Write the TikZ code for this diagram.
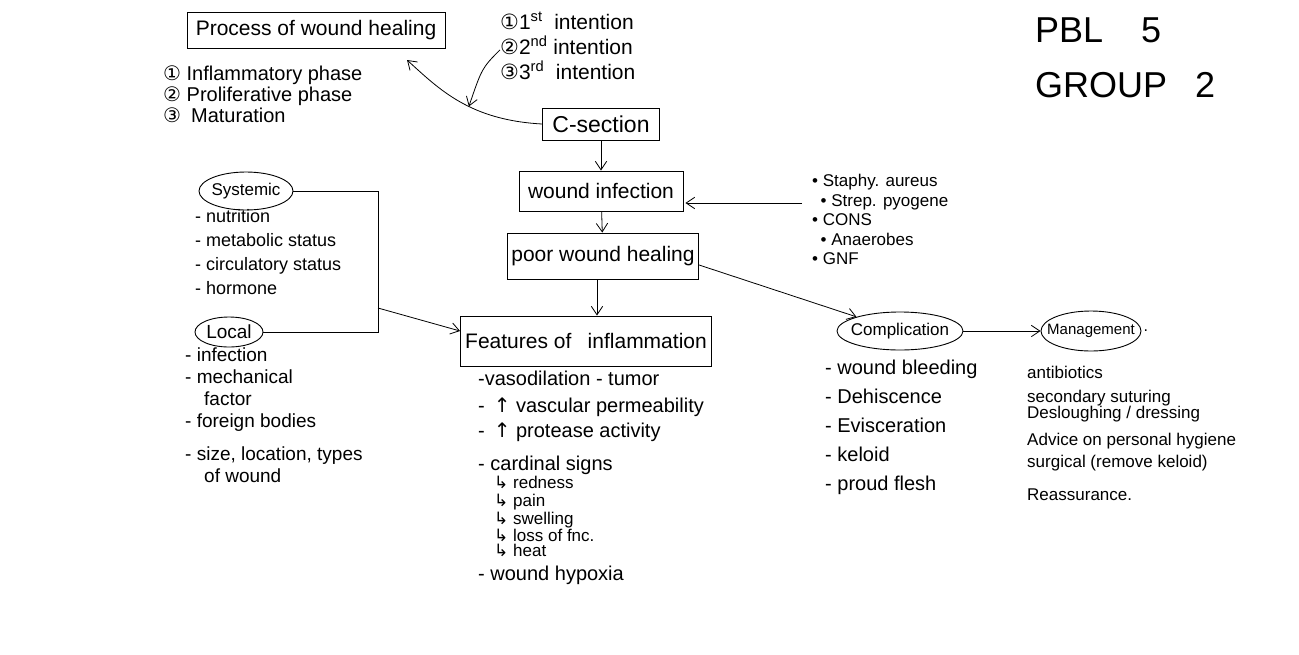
\documentclass[tikz,border=0pt]{standalone}
\usepackage{fontspec}
\setmainfont{Liberation Sans}
\newfontfamily\symfont{DejaVu Sans}
\usetikzlibrary{arrows.meta,positioning,shapes.geometric}
\newcommand{\sym}[1]{{\symfont #1}}
\newcommand{\fsz}[2]{\fontsize{#1}{#2}\selectfont}

\begin{document}
\begin{tikzpicture}[x=1pt,y=-1pt,
  box/.style={draw,line width=0.9pt,inner sep=4pt,font=\fsz{21}{24}},
  oval/.style={ellipse,draw,line width=0.9pt,inner sep=0pt,font=\fsz{17}{20}},
  list/.style={align=left,anchor=north west,inner sep=0pt},
  arr/.style={-{Straight Barb[length=3mm,width=4mm]},line width=0.8pt},
  link/.style={line width=0.8pt}
]
\useasboundingbox (0,0) rectangle (1299,654);

% main chain
\node[box,minimum width=258pt,minimum height=36pt] (proc) at (316,30) {Process of wound healing};
\node[box,minimum width=117pt,minimum height=32pt,font=\fsz{23}{26}] (csec) at (601,124) {C-section};
\node[box,minimum width=164pt,minimum height=40pt] (inf) at (601,191) {wound infection};
\node[box,minimum width=187pt,minimum height=46pt] (poor) at (603,256) {poor wound healing};
\node[box,minimum width=251pt,minimum height=50pt] (feat) at (586,341) {Features of \enspace inflammation};

% lists
\node[list,font=\fsz{20}{21}] (phases) at (163,66)
  {\sym{①} Inflammatory phase\\\sym{②} Proliferative phase\\\sym{③}\enspace Maturation};
\node[list,font=\fsz{21}{25}] (intent) at (500,12)
  {\sym{①}1\textsuperscript{st} \ intention\\\sym{②}2\textsuperscript{nd} intention\\\sym{③}3\textsuperscript{rd} \ intention};
\node[list,font=\fsz{17}{19.5}] (germs) at (812,174)
  {• Staphy. aureus\\\enspace• Strep. pyogene\\• CONS\\\enspace• Anaerobes\\• GNF};

\node[oval,minimum width=94pt,minimum height=38pt] (sys) at (246,191) {\makebox[0pt]{Systemic}};
\node[list,font=\fsz{18}{24}] (syslist) at (195,209)
  {- nutrition\\- metabolic status\\- circulatory status\\- hormone};
\node[oval,minimum width=68pt,minimum height=30pt,font=\fsz{19}{22}] (loc) at (229,332) {\makebox[0pt]{Local}};
\node[list,font=\fsz{19}{22}] (loclist) at (185,348)
  {- infection\\- mechanical\\\quad factor\\- foreign bodies\\[11pt]- size, location, types\\\quad of wound};

\node[list,font=\fsz{20}{25}] (featlist) at (478,371)
  {-vasodilation - tumor\\[2pt]
   - \,\sym{↑} vascular permeability\\
   - \,\sym{↑} protease activity\\[8pt]
   - cardinal signs};
\node[list,font=\fsz{17}{17}] (signs) at (494,476)
  {\sym{↳} redness\\[1pt]\sym{↳} pain\\[1pt]\sym{↳} swelling\\[0pt]\sym{↳} loss of fnc.\\[-2pt]\sym{↳} heat};
\node[list,font=\fsz{20}{25}] (hypoxia) at (478,566) {- wound hypoxia};

\node[oval,minimum width=126pt,minimum height=38pt] (comp) at (900,331) {\makebox[0pt]{Complication}};
\node[list,font=\fsz{20}{29}] (complist) at (825,360)
  {- wound bleeding\\- Dehiscence\\- Evisceration\\- keloid\\- proud flesh};
\node[oval,minimum width=100pt,minimum height=40pt,font=\fsz{15}{18}] (mgmt) at (1091,331) {\makebox[0pt]{Management}};
\node[right=2pt of mgmt,inner sep=0pt,font=\fsz{16}{19}] (mgmtdot) {.};
\node[list,font=\fsz{17}{24}] (mgmtlist) at (1027,366)
  {antibiotics\\secondary suturing\\[-8pt]Desloughing / dressing\\[3pt]Advice on personal hygiene\\[-2pt]surgical (remove keloid)\\[9pt]Reassurance.};

\node[anchor=north west,align=left,inner sep=0pt,font=\fsz{36}{55}] (pbl) at (1035,18)
  {PBL\hspace{38pt}5\\GROUP\hspace{28pt}2};

% connectors
\draw[arr] (csec.west) .. controls (470,120) and (440,90) .. coordinate[pos=0.43] (hit) (407,60);
\draw[arr] ([yshift=-4pt]intent.west) .. controls (482,68) .. (hit);
\draw[arr] (csec) -- (inf);
\draw[arr] (inf) -- (poor);
\coordinate (drop) at ([xshift=-6pt]poor.south);
\draw[arr] (drop) -- (drop |- feat.north);
\coordinate (tgt) at ([yshift=-12pt]inf.east);
\draw[arr,shorten <=10pt] (germs.west |- tgt) -- ([xshift=2pt]tgt);

\coordinate (brk) at (378,308);
\draw[link] (sys.east) -- (sys.east -| brk) -- (loc.east -| brk) -- (loc.east);
\draw[arr] (brk) -- ([yshift=10pt]feat.west);

\draw[arr] ([yshift=-9pt]poor.east) -- (comp.162);
\draw[arr] (comp.east) -- (mgmt.west);
\end{tikzpicture}
\end{document}
